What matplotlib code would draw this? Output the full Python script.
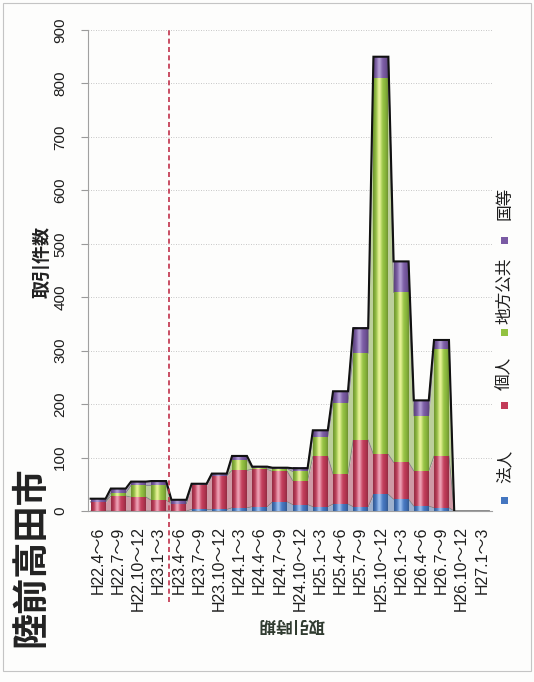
import numpy as np
import matplotlib
matplotlib.use("Agg")
import matplotlib.pyplot as plt
from matplotlib.colors import to_rgb
from matplotlib.patches import Rectangle
from matplotlib.transforms import blended_transform_factory

# 取引時期 (quarters)
periods = ["H22.4〜6", "H22.7〜9", "H22.10〜12", "H23.1〜3", "H23.4〜6",
           "H23.7〜9", "H23.10〜12", "H24.1〜3", "H24.4〜6", "H24.7〜9",
           "H24.10〜12", "H25.1〜3", "H25.4〜6", "H25.7〜9", "H25.10〜12",
           "H26.1〜3", "H26.4〜6", "H26.7〜9", "H26.10〜12", "H27.1〜3"]

# 取引件数 by buyer type
hojin = [0, 0, 0, 0, 0, 3, 3, 6, 8, 17, 12, 8, 13, 8, 31, 22, 9, 6, 0, 0]
kojin = [17, 28, 26, 20, 14, 45, 63, 70, 70, 57, 45, 94, 56, 125, 75, 69, 66, 97, 0, 0]
chiho = [0, 6, 22, 28, 0, 0, 0, 20, 2, 5, 17, 37, 134, 162, 705, 318, 103, 200, 0, 0]
kuni = [6, 8, 7, 8, 7, 3, 4, 7, 3, 2, 6, 12, 21, 47, 39, 58, 29, 17, 0, 0]

series_names = ["法人", "個人", "地方公共", "国等"]
base_colors = ["#4476c0", "#c23a58", "#92c240", "#7a5aa4"]
light_colors = ["#9fc2f0", "#eea4b8", "#eaf49a", "#b39fd4"]

jp = ["Noto Sans CJK JP", "DejaVu Sans"]
lat = ["Liberation Sans", "Noto Sans CJK JP"]

W, H = 534, 682
fig = plt.figure(figsize=(W / 100, H / 100), dpi=100)
fig.patch.set_facecolor("#fdfdfc")
ax = fig.add_axes([88 / W, 1 - 511 / H, 404 / W, 481 / H])
ax.set_facecolor("#fdfdfc")

n = len(periods)
w = 0.74
idx = np.arange(n)
layers = np.array([hojin, kojin, chiho, kuni], dtype=float)
cum = np.vstack([np.zeros(n), np.cumsum(layers, axis=0)])

# stepped profile x points (left/right edge of each bar)
xs = np.column_stack([idx - w / 2, idx + w / 2]).ravel()


def step(v):
    return np.repeat(v, 2)


def mix(c1, c2, a):
    c1, c2 = np.array(to_rgb(c1)), np.array(to_rgb(c2))
    return tuple(c1 * a + c2 * (1 - a))


# background stacked area
for k in range(4):
    ax.fill_between(xs, step(cum[k]), step(cum[k + 1]),
                    color=mix(base_colors[k], "#d8d8d8", 0.4), lw=0, zorder=1)
    ax.plot(xs, step(cum[k + 1]), color="#808080", lw=0.6, zorder=2)

# shaded bars
t = np.linspace(0, 1, 40)
hl = np.exp(-((t - 0.42) / 0.16) ** 2)
edge = np.abs(t - 0.5) * 2
for k in range(4):
    b = np.array(to_rgb(base_colors[k]))
    li = np.array(to_rgb(light_colors[k]))
    cols = b[None, :] * (1 - hl[:, None]) + li[None, :] * hl[:, None]
    cols = cols * (1 - 0.25 * edge[:, None] ** 3)
    img = np.clip(cols, 0, 1)[None, :, :]
    for i in range(n):
        y0, y1 = cum[k][i], cum[k + 1][i]
        if y1 - y0 <= 0:
            continue
        ax.imshow(img, extent=[i - w / 2, i + w / 2, y0, y1],
                  aspect="auto", interpolation="bicubic", zorder=3)

# black outline along the totals
total = cum[4]
last = np.nonzero(total)[0].max() + 1
ax.plot(xs[:2 * last + 1], step(total)[:2 * last + 1], color="#111111",
        lw=1.5, zorder=4, solid_joinstyle="miter")

ax.set_xlim(-0.5, n - 0.5)
ax.set_ylim(0, 900)
ax.set_yticks(np.arange(0, 901, 100))
ax.set_xticks(idx)
ax.set_xticklabels(periods, rotation=90, ha="center", va="top",
                   family=lat, fontsize=11.5, color="#1e1e1e")
ax.tick_params(axis="x", length=0, pad=11)
ax.tick_params(axis="y", length=5, color="#9a9a9a", pad=10,
               labelsize=11, labelcolor="#1e1e1e")
for lab in ax.get_yticklabels():
    lab.set_rotation(90)
    lab.set_va("center")
    lab.set_family(lat)
ax.grid(axis="y", color="#b5b5b5", lw=0.6, linestyle=(0, (1, 2)), zorder=0)
ax.set_axisbelow(True)
for s in ["top", "right"]:
    ax.spines[s].set_visible(False)
for s in ["left", "bottom"]:
    ax.spines[s].set_color("#a0a0a0")
    ax.spines[s].set_linewidth(0.8)

# red dashed divider between H23.1〜3 and H23.4〜6
tr = blended_transform_factory(ax.transData, ax.transAxes)
ax.plot([3.5, 3.5], [-0.19, 1.0], transform=tr, color="#c0304a", lw=1.2,
        linestyle=(0, (3, 2)), clip_on=False, zorder=5)

# texts
fig.text(31 / W, 1 - 557 / H, "陸前高田市", rotation=90, ha="center",
         va="center", fontsize=26, fontweight="bold", family=jp,
         color="#222222")
fig.text(42 / W, 1 - 262 / H, "取引件数", rotation=90, ha="center",
         va="center", fontsize=13, fontweight="bold", family=jp,
         color="#222222")
fig.text(291 / W, 1 - 624 / H, "取引時期", rotation=180, ha="center",
         va="center", fontsize=12, fontweight="bold", family=jp,
         color="#2f3a2f")

# rotated legend
leg_sq = [500, 405, 332, 240]
leg_tx = [466, 373, 291, 203]
for k in range(4):
    fig.add_artist(Rectangle(((504 - 3.5) / W, 1 - (leg_sq[k] + 3.5) / H),
                             7 / W, 7 / H, transform=fig.transFigure,
                             facecolor=base_colors[k], edgecolor="none"))
    fig.text(505 / W, 1 - leg_tx[k] / H, series_names[k], rotation=90,
             ha="center", va="center", fontsize=12, family=jp,
             color="#1e1e1e")

# scan border
fig.add_artist(Rectangle((3 / W, 1 - 671 / H), 528 / W, 668 / H,
                         transform=fig.transFigure, fill=False,
                         edgecolor="#c4c4c4", lw=0.8))

fig.savefig("out.png", dpi=100, facecolor=fig.get_facecolor())
